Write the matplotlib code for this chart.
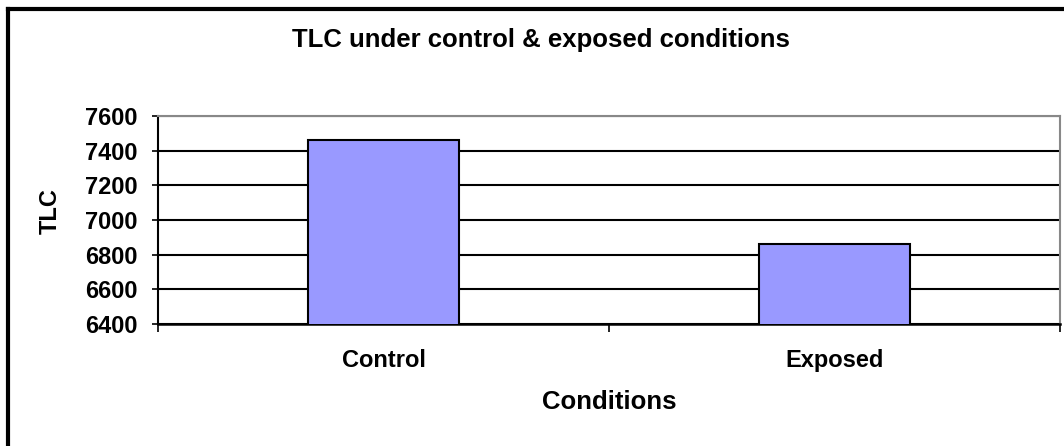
import numpy as np
import matplotlib.pyplot as plt
from matplotlib.lines import Line2D

# data
conditions = ['Control', 'Exposed']
tlc = [7461, 6862]
y_ticks = [6400, 6600, 6800, 7000, 7200, 7400, 7600]

plt.rcParams['font.family'] = ['Liberation Sans', 'DejaVu Sans']
plt.rcParams['font.weight'] = 'bold'

fig = plt.figure(figsize=(10.64, 4.46), dpi=100)
ax = fig.add_axes([158/1064, 1 - 324/446, (1060 - 158)/1064, (324 - 116)/446])

x = np.arange(len(conditions))
ax.bar(x, tlc, width=0.337, color='#9999ff', edgecolor='black', linewidth=1.5, zorder=3)

ax.set_xlim(-0.5, 1.5)
ax.set_ylim(6400, 7600)
ax.set_yticks(y_ticks)
ax.set_yticklabels([str(v) for v in y_ticks])
ax.tick_params(axis='y', length=4.5, width=1.2, direction='out', pad=10, labelsize=17)

# category boundaries carry the ticks, names sit in the middle
ax.set_xticks([-0.5, 0.5, 1.5])
ax.set_xticklabels([])
ax.set_xticks(x, minor=True)
ax.set_xticklabels(conditions, minor=True)
ax.tick_params(axis='x', which='minor', length=0, pad=18, labelsize=17)
ax.tick_params(axis='x', which='major', length=6, width=1.2, direction='out')

ax.yaxis.grid(True, color='black', linewidth=1.5, zorder=0)
ax.set_axisbelow(True)
for s in ['top', 'right']:
    ax.spines[s].set_color('#888888')
    ax.spines[s].set_linewidth(1.5)
ax.spines['left'].set_linewidth(1.5)
ax.spines['bottom'].set_linewidth(1.8)

ax.set_ylabel('TLC', fontsize=17, fontweight='bold', va='center')
ax.yaxis.set_label_coords(-0.119, 0.543)
ax.set_xlabel('Conditions', fontsize=18.5, fontweight='bold', va='center')
ax.xaxis.set_label_coords(0.5, -0.375)
fig.text(541/1064, 1 - 40/446, 'TLC under control & exposed conditions',
         ha='center', va='center', fontsize=18.5, fontweight='bold')

# outer chart border (top and left edges visible)
fig.add_artist(Line2D([8/1064, 1.0], [1 - 9/446, 1 - 9/446], color='black', linewidth=3, transform=fig.transFigure))
fig.add_artist(Line2D([8/1064, 8/1064], [0.0, 1 - 9/446], color='black', linewidth=3, transform=fig.transFigure))

fig.savefig('out.png', dpi=100)
